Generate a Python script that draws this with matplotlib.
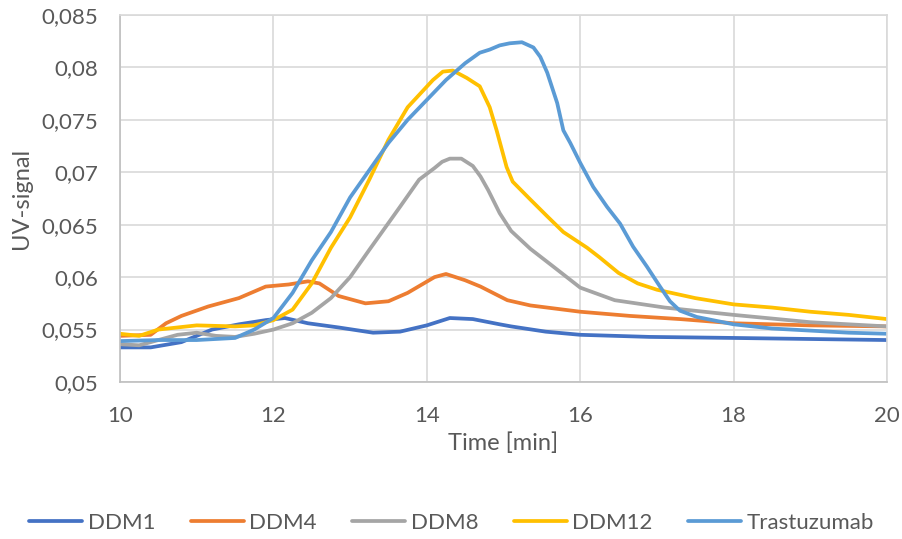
import matplotlib.pyplot as plt
from matplotlib.ticker import FuncFormatter

# (time in min, UV signal)
t_ddm1 = [10, 10.4, 10.8, 11.2, 11.55, 11.9, 12.15, 12.45, 12.85, 13.3, 13.65, 14.0,
          14.3, 14.6, 14.95, 15.1, 15.55, 16.0, 16.9, 18.0, 19.0, 20.0]
ddm1 = [0.0533, 0.0533, 0.0538, 0.0550, 0.0555, 0.0559, 0.0561, 0.0556, 0.0552, 0.0547,
        0.0548, 0.0554, 0.0561, 0.0560, 0.0555, 0.0553, 0.0548, 0.0545, 0.0543, 0.0542,
        0.0541, 0.0540]

t_ddm4 = [10, 10.4, 10.6, 10.8, 11.15, 11.55, 11.9, 12.2, 12.45, 12.6, 12.85, 13.2, 13.5,
          13.75, 14.1, 14.25, 14.5, 14.7, 15.05, 15.35, 16.0, 16.65, 17.3, 18.0, 19.0, 20.0]
ddm4 = [0.0544, 0.0545, 0.0556, 0.0563, 0.0572, 0.0580, 0.0591, 0.0593, 0.0596, 0.0594,
        0.0582, 0.0575, 0.0577, 0.0585, 0.0600, 0.0603, 0.0597, 0.0591, 0.0578, 0.0573,
        0.0567, 0.0563, 0.0560, 0.0556, 0.0554, 0.0553]

t_ddm8 = [10, 10.25, 10.5, 10.75, 11.0, 11.25, 11.5, 11.75, 12.0, 12.25, 12.5, 12.75,
          13.0, 13.25, 13.65, 13.9, 14.1, 14.2, 14.3, 14.45, 14.6, 14.7, 14.8, 14.95, 15.1,
          15.35, 15.65, 16.0, 16.45, 17.1, 18.0, 19.0, 20.0]
ddm8 = [0.0536, 0.0535, 0.0540, 0.0545, 0.0547, 0.0544, 0.0543, 0.0546, 0.0550, 0.0556,
        0.0566, 0.0580, 0.0600, 0.0626, 0.0667, 0.0693, 0.0704, 0.0710, 0.0713, 0.0713,
        0.0706, 0.0696, 0.0683, 0.0661, 0.0644, 0.0627, 0.0610, 0.0590, 0.0578, 0.0571,
        0.0564, 0.0557, 0.0553]

t_ddm12 = [10, 10.25, 10.5, 10.75, 11.0, 11.5, 11.75, 12.0, 12.25, 12.5, 12.75, 13.0,
           13.25, 13.5, 13.75, 14.08, 14.21, 14.34, 14.52, 14.69, 14.82, 14.91, 15.04,
           15.12, 15.35, 15.57, 15.78, 16.09, 16.25, 16.5, 16.75, 17.0, 17.5, 18.0, 18.5,
           19.0, 19.5, 20.0]
ddm12 = [0.0546, 0.0544, 0.0550, 0.0552, 0.0554, 0.0553, 0.0554, 0.0559, 0.0569, 0.0594,
         0.0628, 0.0657, 0.0693, 0.0731, 0.0762, 0.0788, 0.0796, 0.0797, 0.0790, 0.0782,
         0.0762, 0.0740, 0.0705, 0.0691, 0.0674, 0.0658, 0.0643, 0.0628, 0.0619, 0.0604,
         0.0594, 0.0588, 0.0580, 0.0574, 0.0571, 0.0567, 0.0564, 0.0560]

t_trast = [10, 10.5, 11.0, 11.5, 11.75, 12.0, 12.25, 12.5, 12.75, 13.0, 13.25, 13.5,
           13.75, 14.0, 14.25, 14.5, 14.69, 14.82, 14.95, 15.08, 15.24, 15.39, 15.48,
           15.57, 15.7, 15.78, 15.87, 16.0, 16.17, 16.35, 16.52, 16.69, 16.87, 17.04,
           17.17, 17.3, 17.52, 18.0, 18.5, 19.0, 19.5, 20.0]
trast = [0.0539, 0.0540, 0.0540, 0.0542, 0.0550, 0.0561, 0.0585, 0.0616, 0.0643, 0.0676,
         0.0702, 0.0728, 0.0750, 0.0769, 0.0788, 0.0804, 0.0814, 0.0817, 0.0821, 0.0823,
         0.0824, 0.0819, 0.0810, 0.0795, 0.0766, 0.0740, 0.0728, 0.0709, 0.0686, 0.0667,
         0.0651, 0.0629, 0.0610, 0.0591, 0.0577, 0.0568, 0.0562, 0.0555, 0.0551, 0.0549,
         0.0547, 0.0546]

series = [("DDM1", t_ddm1, ddm1, "#4472C4"),
          ("DDM4", t_ddm4, ddm4, "#ED7D31"),
          ("DDM8", t_ddm8, ddm8, "#A5A5A5"),
          ("DDM12", t_ddm12, ddm12, "#FFC000"),
          ("Trastuzumab", t_trast, trast, "#5B9BD5")]

plt.rcParams['font.family'] = ['Lato', 'DejaVu Sans']
txt = "#595959"

fig = plt.figure(figsize=(9.03, 5.39), dpi=100)
ax = fig.add_axes([0.1329, 0.2913, 0.8494, 0.6809])

for name, t, v, c in series:
    ax.plot(t, v, color=c, lw=2.7, label=name, solid_capstyle='round',
            solid_joinstyle='round')

ax.set_xlim(10, 20)
ax.set_ylim(0.05, 0.085)
ax.set_xticks(range(10, 21, 2))
ax.set_yticks([0.05 + 0.005 * i for i in range(8)])
ax.yaxis.set_major_formatter(FuncFormatter(lambda y, p: ("%g" % round(y, 3)).replace(".", ",")))
ax.grid(True, color="#D9D9D9", lw=1.2)
ax.set_axisbelow(True)
for s in ["top", "right"]:
    ax.spines[s].set_color("#D9D9D9")
    ax.spines[s].set_linewidth(1.2)
for s in ["left", "bottom"]:
    ax.spines[s].set_color("#BFBFBF")
    ax.spines[s].set_linewidth(1.2)
ax.tick_params(length=0, labelsize=16, colors=txt)
ax.tick_params(axis="x", pad=17)
ax.tick_params(axis="y", pad=16)

ax.set_xlabel("Time [min]", fontsize=17, color=txt)
ax.set_ylabel("UV-signal", fontsize=17, color=txt)
ax.xaxis.set_label_coords(0.5, -0.136)
ax.yaxis.set_label_coords(-0.115, 0.5)

fig.legend(loc="center", bbox_to_anchor=(0.5, 0.03), ncol=5, frameon=False,
           fontsize=16, labelcolor=txt, handlelength=2.4, handletextpad=0.23,
           columnspacing=1.6)

fig.savefig("out.png", dpi=100)
